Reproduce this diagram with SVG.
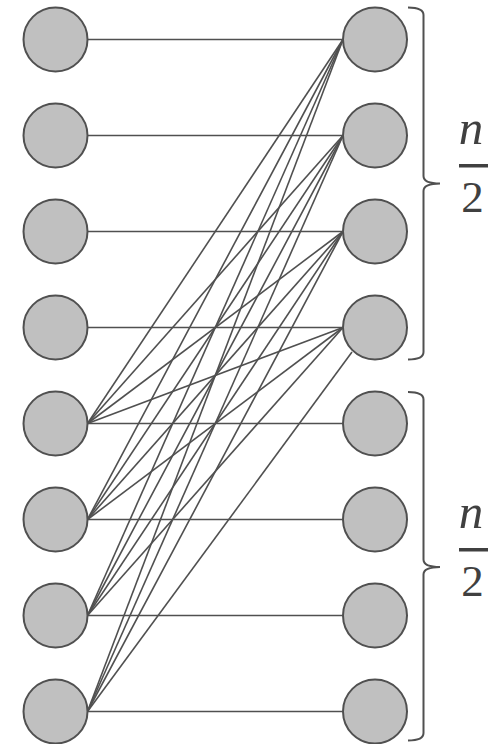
<svg xmlns="http://www.w3.org/2000/svg" width="497" height="744" viewBox="0 0 497 744">
<style>
.edge{stroke:#505050;stroke-width:1.6;fill:none}
.node{fill:#c0c0c0;stroke:#505050;stroke-width:2}
.brace{stroke:#505050;stroke-width:2;fill:none}
.num{font-family:"Liberation Serif","DejaVu Serif",serif;font-size:45px;fill:#404040;text-anchor:middle}
.it{font-style:italic;font-size:49px}
.bar{fill:#404040}
</style>
<g id="connectors">
<line class="edge" x1="87.5" y1="39.5" x2="343" y2="39.5"/>
<line class="edge" x1="87.5" y1="135.5" x2="343" y2="135.5"/>
<line class="edge" x1="87.5" y1="231.5" x2="343" y2="231.5"/>
<line class="edge" x1="87.5" y1="327.5" x2="343" y2="327.5"/>
<line class="edge" x1="87.5" y1="423.5" x2="343" y2="423.5"/>
<line class="edge" x1="87.5" y1="519.5" x2="343" y2="519.5"/>
<line class="edge" x1="87.5" y1="615.5" x2="343" y2="615.5"/>
<line class="edge" x1="87.5" y1="711.5" x2="343" y2="711.5"/>
<line class="edge" x1="87.5" y1="423.5" x2="343" y2="39.5"/>
<line class="edge" x1="87.5" y1="423.5" x2="343" y2="135.5"/>
<line class="edge" x1="87.5" y1="423.5" x2="343" y2="231.5"/>
<line class="edge" x1="87.5" y1="423.5" x2="343" y2="327.5"/>
<line class="edge" x1="87.5" y1="519.5" x2="343" y2="39.5"/>
<line class="edge" x1="87.5" y1="519.5" x2="343" y2="135.5"/>
<line class="edge" x1="87.5" y1="519.5" x2="343" y2="231.5"/>
<line class="edge" x1="87.5" y1="519.5" x2="343" y2="327.5"/>
<line class="edge" x1="87.5" y1="615.5" x2="343" y2="39.5"/>
<line class="edge" x1="87.5" y1="615.5" x2="343" y2="135.5"/>
<line class="edge" x1="87.5" y1="615.5" x2="343" y2="231.5"/>
<line class="edge" x1="87.5" y1="615.5" x2="343" y2="327.5"/>
<line class="edge" x1="87.5" y1="711.5" x2="343" y2="39.5"/>
<line class="edge" x1="87.5" y1="711.5" x2="343" y2="135.5"/>
<line class="edge" x1="87.5" y1="711.5" x2="343" y2="231.5"/>
<line class="edge" x1="87.5" y1="711.5" x2="352" y2="352"/>
</g>
<g id="left-nodes">
<circle id="L0" class="node" cx="55.5" cy="39.5" r="32"/>
<circle id="L1" class="node" cx="55.5" cy="135.5" r="32"/>
<circle id="L2" class="node" cx="55.5" cy="231.5" r="32"/>
<circle id="L3" class="node" cx="55.5" cy="327.5" r="32"/>
<circle id="L4" class="node" cx="55.5" cy="423.5" r="32"/>
<circle id="L5" class="node" cx="55.5" cy="519.5" r="32"/>
<circle id="L6" class="node" cx="55.5" cy="615.5" r="32"/>
<circle id="L7" class="node" cx="55.5" cy="711.5" r="32"/>
</g>
<g id="right-nodes">
<circle id="R0" class="node" cx="375" cy="39.5" r="32"/>
<circle id="R1" class="node" cx="375" cy="135.5" r="32"/>
<circle id="R2" class="node" cx="375" cy="231.5" r="32"/>
<circle id="R3" class="node" cx="375" cy="327.5" r="32"/>
<circle id="R4" class="node" cx="375" cy="423.5" r="32"/>
<circle id="R5" class="node" cx="375" cy="519.5" r="32"/>
<circle id="R6" class="node" cx="375" cy="615.5" r="32"/>
<circle id="R7" class="node" cx="375" cy="711.5" r="32"/>
</g>
<g id="top-brace">
<path class="brace" d="M408,7.5 Q423.5,7.5 423.5,15 L423.5,176 Q423.5,183.5 440,183.5 Q423.5,183.5 423.5,191 L423.5,352 Q423.5,359.5 408,359.5"/>
<text class="num it" x="471" y="144">n</text>
<rect class="bar" x="459" y="164" width="29" height="3.5"/>
<text class="num" x="472.5" y="211.5">2</text>
</g>
<g id="bottom-brace">
<path class="brace" d="M408,392 Q423.5,392 423.5,399.5 L423.5,559.5 Q423.5,567 440,567 Q423.5,567 423.5,574.5 L423.5,733 Q423.5,740.5 408,740.5"/>
<text class="num it" x="471" y="528">n</text>
<rect class="bar" x="459" y="548" width="29" height="3.5"/>
<text class="num" x="472.5" y="595.5">2</text>
</g>
</svg>
